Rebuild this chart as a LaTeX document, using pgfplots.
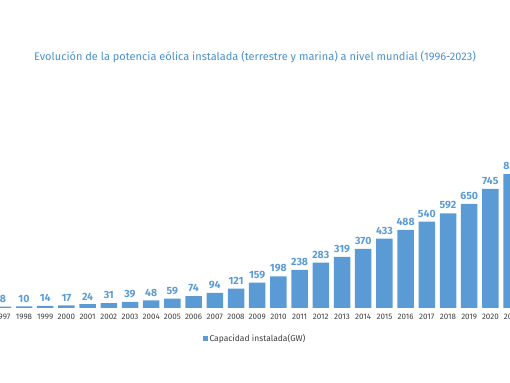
\documentclass[border=0pt]{standalone}
\usepackage{pgfplots}
\pgfplotsset{compat=1.18}
\usepackage{fontspec}
\setmainfont{Fira Sans}
\definecolor{barblue}{HTML}{5B9BD5}
\definecolor{titleblue}{HTML}{4A90CF}
\definecolor{ticktxt}{HTML}{404040}
\begin{document}
\begin{tikzpicture}[x=1pt,y=1pt]
\useasboundingbox (0,0) rectangle (510,382);
\node[font=\fontsize{11}{13}\selectfont, text=titleblue] at (255,325) {Evolución de la potencia eólica instalada (terrestre y marina) a nivel mundial (1996-2023)};
\begin{axis}[
  at={(-7.8pt,74pt)}, anchor=south west,
  scale only axis, width=572.4pt, height=176pt,
  xmin=1996.5, xmax=2023.5, ymin=0, ymax=1100,
  axis x line*=bottom,
  x axis line style={draw=none},
  hide y axis,
  ybar, bar width=16.5pt,
  xtick=data,
  xticklabel style={/pgf/number format/1000 sep={}, font=\fontsize{8}{9}\selectfont, text=ticktxt},
  /pgf/number format/assume math mode=true,
  major tick length=0pt,
  xticklabel shift=3pt,
  nodes near coords,
  nodes near coords style={font=\bfseries\fontsize{10.5}{12}\selectfont, text=barblue, /pgf/number format/1000 sep={}, yshift=0.5pt},
  legend style={at={(0.4591,-0.176)}, anchor=center, draw=none, font=\fontsize{8.5}{9}\selectfont, text=ticktxt},
]
\addplot[fill=barblue, draw=none, legend image code/.code={\fill[barblue] (0pt,-2.5pt) rectangle (5pt,2.5pt);}] coordinates {
(1996,6) (1997,8) (1998,10) (1999,14) (2000,17) (2001,24) (2002,31) (2003,39) (2004,48) (2005,59) (2006,74) (2007,94) (2008,121) (2009,159) (2010,198) (2011,238) (2012,283) (2013,319) (2014,370) (2015,433) (2016,488) (2017,540) (2018,592) (2019,650) (2020,745) (2021,837) (2022,906) (2023,1021)
};
\addlegendentry{Capacidad instalada(GW)}
\end{axis}
\end{tikzpicture}
\end{document}
